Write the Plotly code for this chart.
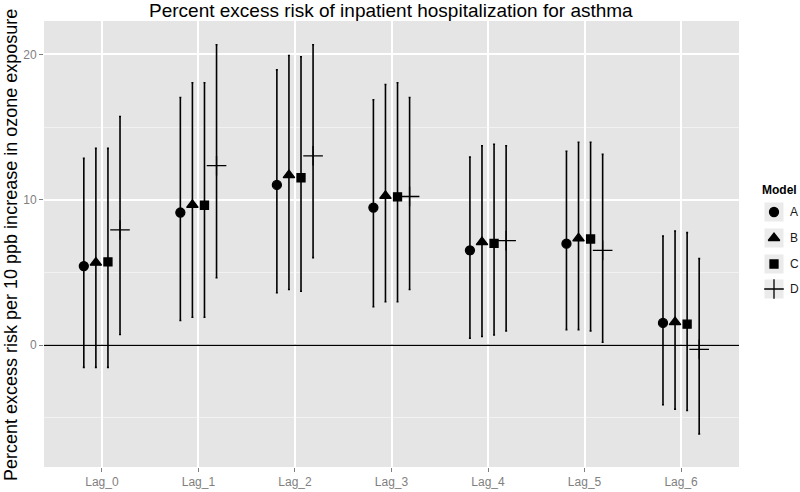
## import packages
import plotly.graph_objects as go

## data
lags = ['Lag_0', 'Lag_1', 'Lag_2', 'Lag_3', 'Lag_4', 'Lag_5', 'Lag_6']
models = ['A', 'B', 'C', 'D']

est_A = [5.45, 9.13, 11.03, 9.47, 6.53, 6.99, 1.54]
low_A = [-1.52, 1.70, 3.61, 2.65, 0.48, 1.08, -4.09]
upp_A = [12.85, 17.04, 18.94, 16.88, 12.94, 13.34, 7.52]

est_B = [5.68, 9.66, 11.70, 10.28, 7.10, 7.35, 1.59]
low_B = [-1.52, 1.93, 3.84, 2.99, 0.60, 1.08, -4.39]
upp_B = [13.54, 18.05, 19.93, 17.93, 13.72, 13.96, 7.86]

est_C = [5.73, 9.63, 11.52, 10.21, 7.01, 7.31, 1.45]
low_C = [-1.52, 1.93, 3.72, 2.99, 0.71, 0.99, -4.48]
upp_C = [13.54, 18.05, 19.84, 18.05, 13.82, 13.96, 7.75]

est_D = [7.93, 12.35, 13.03, 10.23, 7.20, 6.53, -0.28]
low_D = [0.74, 4.64, 6.03, 3.84, 0.99, 0.21, -6.09]
upp_D = [15.73, 20.67, 20.67, 17.04, 13.72, 13.13, 5.96]

y_ticks = [0, 10, 20]

## styling
params = dict(
    width = 800, height = 492,
    panel = '#E5E5E5', grid_major = '#FFFFFF', grid_minor = '#F2F2F2',
    tick_color = '#7F7F7F', ink = '#000000', key_bg = '#EBEBEB',
    font = 'Arial, Liberation Sans, sans-serif',
    symbols = dict(A = 'circle', B = 'triangle-up', C = 'square', D = 'cross-thin'),
    sizes = dict(A = 9, B = 10, C = 8, D = 14),
    dodge = dict(A = -0.1875, B = -0.0625, C = 0.0625, D = 0.1875),
)

series = dict(
    A = (est_A, low_A, upp_A),
    B = (est_B, low_B, upp_B),
    C = (est_C, low_C, upp_C),
    D = (est_D, low_D, upp_D),
)

W, H = params['width'], params['height']
px_x = lambda p: p / W
px_y = lambda p: 1 - p / H

fig = go.Figure()

## grey panel drawn as a shape so the legend overlay axis stays white
fig.add_shape(type = 'rect', xref = 'x domain', yref = 'y domain',
              x0 = 0, x1 = 1, y0 = 0, y1 = 1,
              fillcolor = params['panel'], line = dict(width = 0), layer = 'below')

## zero reference line
fig.add_hline(y = 0, line = dict(color = params['ink'], width = 1.2), layer = 'above')

## points with error bars, dodged by model
for m in models:
    est, low, upp = series[m]
    xs = [i + params['dodge'][m] for i in range(len(lags))]
    fig.add_trace(go.Scatter(
        x = xs, y = est, mode = 'markers', name = m, showlegend = False,
        error_y = dict(
            type = 'data', symmetric = False,
            array = [u - e for u, e in zip(upp, est)],
            arrayminus = [e - l for e, l in zip(est, low)],
            color = params['ink'], thickness = 1.6, width = 1,
        ),
        marker = dict(
            symbol = params['symbols'][m], size = params['sizes'][m],
            color = params['ink'], line = dict(color = params['ink'], width = 1.3),
        ),
    ))

## hand-built legend on a pixel-scaled overlay axis
key_xc = 774
row_y = [212, 238, 264, 289]
fig.add_trace(go.Scatter(
    x = [key_xc] * len(models), y = row_y, xaxis = 'x2', yaxis = 'y2',
    mode = 'markers', showlegend = False, hoverinfo = 'skip',
    marker = dict(symbol = 'square', size = 19, color = params['key_bg'], line = dict(width = 0)),
))
for m, yc in zip(models, row_y):
    fig.add_trace(go.Scatter(
        x = [key_xc], y = [yc], xaxis = 'x2', yaxis = 'y2',
        mode = 'markers', showlegend = False, hoverinfo = 'skip',
        marker = dict(symbol = params['symbols'][m], size = params['sizes'][m],
                      color = params['ink'], line = dict(color = params['ink'], width = 1.3)),
    ))
    fig.add_annotation(x = 788, y = yc, xref = 'x2', yref = 'y2', text = m,
                       showarrow = False, xanchor = 'left', yanchor = 'middle',
                       font = dict(size = 12, color = '#1A1A1A'))
fig.add_annotation(x = 760, y = 190, xref = 'x2', yref = 'y2', text = '<b>Model</b>',
                   showarrow = False, xanchor = 'left', yanchor = 'middle',
                   font = dict(size = 12, color = '#000000'))

## title and y label
fig.add_annotation(x = px_x(391), y = px_y(11), xref = 'paper', yref = 'paper',
                   text = 'Percent excess risk of inpatient hospitalization for asthma',
                   showarrow = False, xanchor = 'center', yanchor = 'middle',
                   font = dict(size = 19, color = '#000000'))
fig.add_annotation(x = px_x(11), y = px_y(245), xref = 'paper', yref = 'paper',
                   text = 'Percent excess risk per 10 ppb increase in ozone exposure',
                   textangle = -90, showarrow = False, xanchor = 'center', yanchor = 'middle',
                   font = dict(size = 18, color = '#000000'))

fig.update_layout(
    width = W, height = H,
    margin = dict(l = 0, r = 0, t = 0, b = 0),
    paper_bgcolor = '#FFFFFF', plot_bgcolor = 'rgba(0,0,0,0)',
    font = dict(family = params['font']),
    showlegend = False,
    xaxis = dict(
        domain = [px_x(44), px_x(739)], range = [-0.6, 6.6],
        tickvals = list(range(len(lags))), ticktext = lags,
        showgrid = True, gridcolor = params['grid_major'], gridwidth = 1.5,
        zeroline = False, ticks = 'outside', ticklen = 4, tickwidth = 1,
        tickcolor = params['tick_color'],
        tickfont = dict(size = 12, color = params['tick_color']),
        fixedrange = True,
    ),
    yaxis = dict(
        domain = [px_y(467), px_y(21)], range = [-8.37, 22.3],
        tickvals = y_ticks,
        showgrid = True, gridcolor = params['grid_major'], gridwidth = 1.5,
        minor = dict(dtick = 5, tick0 = 0, showgrid = True, gridcolor = params['grid_minor'], gridwidth = 1),
        zeroline = False, ticks = 'outside', ticklen = 4, tickwidth = 1,
        tickcolor = params['tick_color'],
        tickfont = dict(size = 12, color = params['tick_color']),
        fixedrange = True,
    ),
    xaxis2 = dict(domain = [px_x(744), 1], range = [744, 800], visible = False, fixedrange = True),
    yaxis2 = dict(domain = [0, 1], range = [H, 0], visible = False, fixedrange = True),
)

## drop the default page margin so the figure sits at the window corner
fig.write_html('out.html', config = dict(displayModeBar = False),
               post_script = "document.body.style.margin = '0';")
